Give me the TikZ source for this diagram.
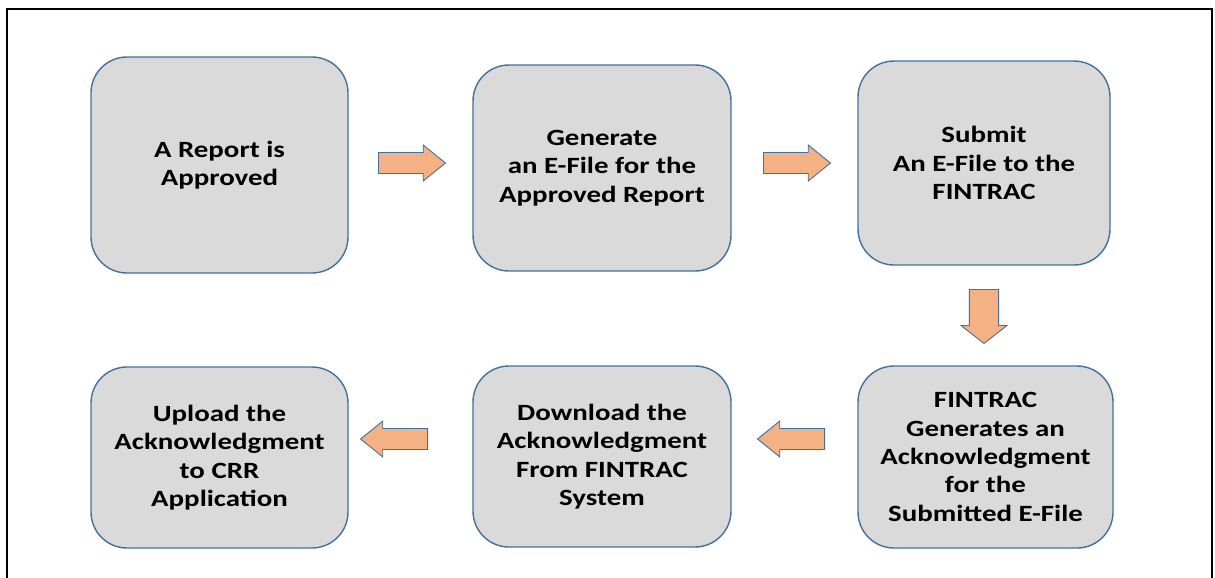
\documentclass[tikz,border=0pt]{standalone}
\usepackage{fontspec}
\setmainfont[FakeStretch=1.24]{Carlito}
\usetikzlibrary{shapes.arrows}
\definecolor{boxgray}{HTML}{DADADA}
\definecolor{boxblue}{HTML}{41719C}
\definecolor{arroworange}{HTML}{F4B183}
\begin{document}
\begin{tikzpicture}[x=1pt,y=-1pt,
    box/.style={draw=boxblue,line width=1.4pt,fill=boxgray,rounded corners=36pt,
      align=center,inner sep=0pt,font=\fontsize{23.3}{28.4}\selectfont\bfseries},
    blockarrow/.style={single arrow,draw=boxblue,line width=0.9pt,fill=arroworange,
      inner sep=0pt,anchor=tail,text height=19pt,single arrow tip angle=78,
      minimum height=67pt,minimum width=36pt}]
    \useasboundingbox (0,0) rectangle (1215,578);
    \draw[line width=2.6pt] (7,578) -- (7,9) -- (1212,9) -- (1212,578);
    \node[box,minimum width=257pt,minimum height=216pt] (s1) at (219.5,165) {A Report is\\Approved};
    \node[box,minimum width=258pt,minimum height=206pt] (s2) at (602,168) {Generate\\an E-File for the\\Approved Report};
    \node[box,minimum width=252pt,minimum height=204pt] (s3) at (984,163) {Submit\\An E-File to the\\FINTRAC};
    \node[box,minimum width=255pt,minimum height=182pt] (s4) at (985.5,457) {FINTRAC\\Generates an\\Acknowledgment\\for the\\Submitted E-File};
    \node[box,minimum width=258pt,minimum height=181pt] (s5) at (602,456.5) {Download the\\Acknowledgment\\From FINTRAC\\System};
    \node[box,minimum width=257pt,minimum height=181pt] (s6) at (219.5,457.5) {Upload the\\Acknowledgment\\to CRR\\Application};
    % block arrows between the steps
    \node[blockarrow] (a1) at (378,163) {};
    \node[blockarrow] (a2) at (763,163) {};
    \node[blockarrow,text height=24pt,minimum height=54pt,minimum width=46pt,
      single arrow tip angle=104,rotate=-90] (a3) at (984,289) {};
    \node[blockarrow,rotate=180] (a4) at (825,439) {};
    \node[blockarrow,rotate=180] (a5) at (428,439) {};
\end{tikzpicture}
\end{document}
